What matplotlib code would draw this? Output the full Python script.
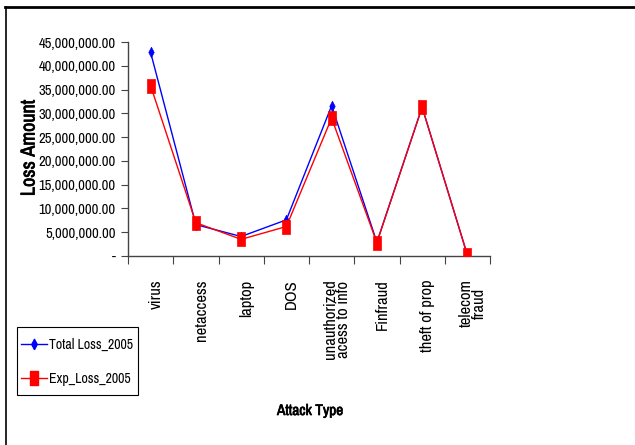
import matplotlib
matplotlib.use("Agg")
import matplotlib.pyplot as plt
from matplotlib import font_manager
import matplotlib.patheffects as pe
from matplotlib.lines import Line2D
from matplotlib.patches import Rectangle
import numpy as np

categories = ["virus", "netaccess", "laptop", "DOS", "unauthorized\nacess to info",
              "Finfraud", "theft of prop", "telecom\nfraud"]
total_loss_2005 = [42800000, 6600000, 4100000, 7600000, 31600000, 2900000, 31300000, 200000]
exp_loss_2005 = [35800000, 7000000, 3500000, 6200000, 29000000, 2800000, 31300000, 200000]
yticks = [0, 5e6, 10e6, 15e6, 20e6, 25e6, 30e6, 35e6, 40e6, 45e6]

fonts = font_manager.fontManager.ttflist
names = sorted({f.name for f in fonts})
narrow = [n for n in names if ("Narrow" in n or "Condensed" in n)]
fam = narrow[0] if narrow else "Liberation Sans"
plt.rcParams['font.family'] = [fam, 'DejaVu Sans']
has_bold = any(f.name == fam and f.weight in ("bold", 700, "heavy") for f in fonts)
bold_kw = {"fontweight": "bold"} if has_bold else {
    "path_effects": [pe.withStroke(linewidth=0.5, foreground="black")]}

# Excel-style marker shapes
rect_marker = [(-4, -7), (4, -7), (4, 7), (-4, 7), (-4, -7)]
diam_marker = [(0, -5), (2.6, 0), (0, 5), (-2.6, 0), (0, -5)]

fig = plt.figure(figsize=(6.35, 4.45), dpi=100)
W, H = 635, 445
ax = fig.add_axes([128 / W, 1 - 256 / H, (490 - 128) / W, (256 - 42) / H])

x = np.arange(len(categories))
ax.plot(x, total_loss_2005, color="#0000ff", lw=1.0, marker=diam_marker, ms=7.5,
        mfc="#0000ff", mec="#0000ff", mew=0.5, zorder=3)
ax.plot(x, exp_loss_2005, color="#ff0000", lw=1.0, marker=rect_marker, ms=10.5,
        mfc="#ff0000", mec="#ff0000", mew=0.5, zorder=4)

ax.set_xlim(-0.5, len(categories) - 0.5)
ax.set_ylim(0, 45e6)
ax.set_yticks(yticks)
ax.set_yticklabels(["-" if v == 0 else f"{v:,.2f}" for v in yticks], fontsize=10.5)
ax.set_xticks(np.arange(len(categories) + 1) - 0.5, minor=False)
ax.set_xticklabels([])
# category labels sit slightly right of the category centre, as in Excel
ax.set_xticks(x + 0.12, minor=True)
ax.set_xticklabels(categories, minor=True, rotation=90, fontsize=12, va="top", ha="center",
                   linespacing=0.8)
ax.tick_params(axis="x", which="minor", length=0, pad=17)
ax.tick_params(axis="x", which="major", length=6, direction="out", color="#444444")
ax.tick_params(axis="y", length=5, direction="out", color="#444444", pad=4)

for s in ["top", "right"]:
    ax.spines[s].set_visible(False)
for s in ["left", "bottom"]:
    ax.spines[s].set_color("#444444")
    ax.spines[s].set_linewidth(1.0)

fig.text(29 / W, 1 - 148 / H, "Loss Amount", rotation=90, ha="center", va="center",
         fontsize=14.5, **bold_kw)
fig.text(310 / W, 1 - 411 / H, "Attack Type", ha="center", va="center",
         fontsize=11, **bold_kw)

handles = [Line2D([], [], color="#0000ff", marker=diam_marker, ms=7.5, lw=1.0),
           Line2D([], [], color="#ff0000", marker=rect_marker, ms=10.5, lw=1.0)]
leg = fig.legend(handles, ["Total Loss_2005", "Exp_Loss_2005"],
                 loc="center left", bbox_to_anchor=(21 / W, 1 - 361.5 / H),
                 frameon=False, fontsize=10,
                 handlelength=1.85, handletextpad=0.2, borderpad=0, labelspacing=1.45,
                 borderaxespad=0)
fig.add_artist(Rectangle((17 / W, 1 - 395 / H), (138 - 17) / W, (395 - 327) / H,
                         transform=fig.transFigure, fill=False, edgecolor="black", lw=0.8))

# figure border (left and top)
fig.add_artist(Line2D([5.5 / W, 5.5 / W], [0, 1 - 7 / H], color="black", lw=1.2))
fig.add_artist(Line2D([5 / W, 1], [1 - 7 / H, 1 - 7 / H], color="black", lw=2))

fig.savefig("out.png", dpi=100)
